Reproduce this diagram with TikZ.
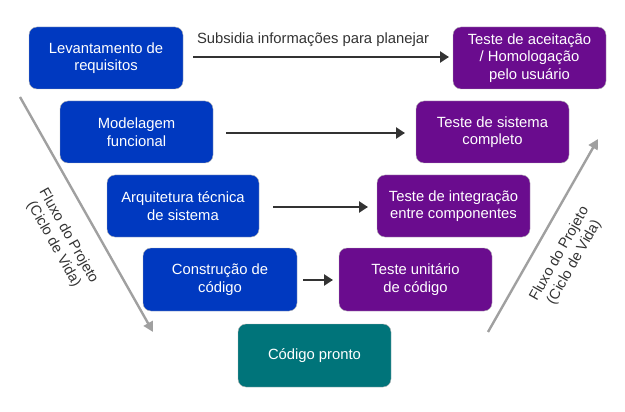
\documentclass[tikz,border=0pt]{standalone}
\usepackage{fontspec}
\setmainfont{Liberation Sans}
\usetikzlibrary{arrows.meta}
\definecolor{bblue}{RGB}{0,57,192}
\definecolor{bpurple}{RGB}{106,12,142}
\definecolor{bteal}{RGB}{0,116,122}
\definecolor{darkline}{RGB}{51,51,51}
\definecolor{flowgray}{RGB}{160,160,160}
\begin{document}
\begin{tikzpicture}[x=1pt,y=-1pt,
  box/.style={rounded corners=8pt, text=white, align=center, font=\fontsize{14.8}{17.6}\selectfont, draw=white!70!black, line width=0.4pt, inner sep=0pt},
  conn/.style={draw=darkline, line width=2.6pt, -{Triangle[length=9pt,width=11pt]}},
  flow/.style={draw=flowgray, line width=2.4pt, -{Triangle[length=10pt,width=10pt]}},
  flowlbl/.style={font=\fontsize{14.5}{17}\selectfont, text=darkline, align=center}]
\useasboundingbox (0,0) rectangle (625,412);
% left column
\node[box, fill=bblue, minimum width=154pt, minimum height=62pt] (l1) at (106,58) {Levantamento de\\requisitos};
\node[box, fill=bblue, minimum width=153pt, minimum height=62pt] (l2) at (136.5,132) {Modelagem\\funcional};
\node[box, fill=bblue, minimum width=152pt, minimum height=62pt] (l3) at (183,206) {Arquitetura técnica\\de sistema};
\node[box, fill=bblue, minimum width=154pt, minimum height=63pt] (l4) at (220,279.5) {Construção de\\código};
\node[box, fill=bteal, minimum width=153pt, minimum height=63pt] (c) at (314.5,355.5) {Código pronto};
% right column
\node[box, fill=bpurple, minimum width=153pt, minimum height=62pt] (r1) at (529.5,58) {Teste de aceitação\\/ Homologação\\pelo usuário};
\node[box, fill=bpurple, minimum width=153pt, minimum height=62pt] (r2) at (492.5,132) {Teste de sistema\\completo};
\node[box, fill=bpurple, minimum width=153pt, minimum height=62pt] (r3) at (453.5,206) {Teste de integração\\entre componentes};
\node[box, fill=bpurple, minimum width=153pt, minimum height=63pt] (r4) at (415.5,279.5) {Teste unitário\\de código};
% connectors
\coordinate (a1s) at (193,57); \coordinate (a1e) at (449,57);
\coordinate (a2s) at (226,133); \coordinate (a2e) at (405,133);
\coordinate (a3s) at (273,207); \coordinate (a3e) at (368,207);
\coordinate (a4s) at (303,280); \coordinate (a4e) at (333,280);
\draw[conn] (a1s) -- (a1e);
\draw[conn] (a2s) -- (a2e);
\draw[conn] (a3s) -- (a3e);
\draw[conn] (a4s) -- (a4e);
\node[font=\fontsize{14.8}{17}\selectfont, text=darkline] (sub) at (313,40) {Subsidia informações para planejar};
% flow arrows
\coordinate (fl1) at (20,97); \coordinate (fl2) at (153,332);
\coordinate (fr1) at (488,332); \coordinate (fr2) at (598,139);
\draw[flow] (fl1) -- (fl2);
\draw[flow] (fr1) -- (fr2);
\node[flowlbl, rotate=-60.5] (lblL) at (61,240) {Fluxo do Projeto\\(Ciclo de Vida)};
\node[flowlbl, rotate=60.4] (lblR) at (567,258) {Fluxo do Projeto\\(Ciclo de Vida)};
\end{tikzpicture}
\end{document}
